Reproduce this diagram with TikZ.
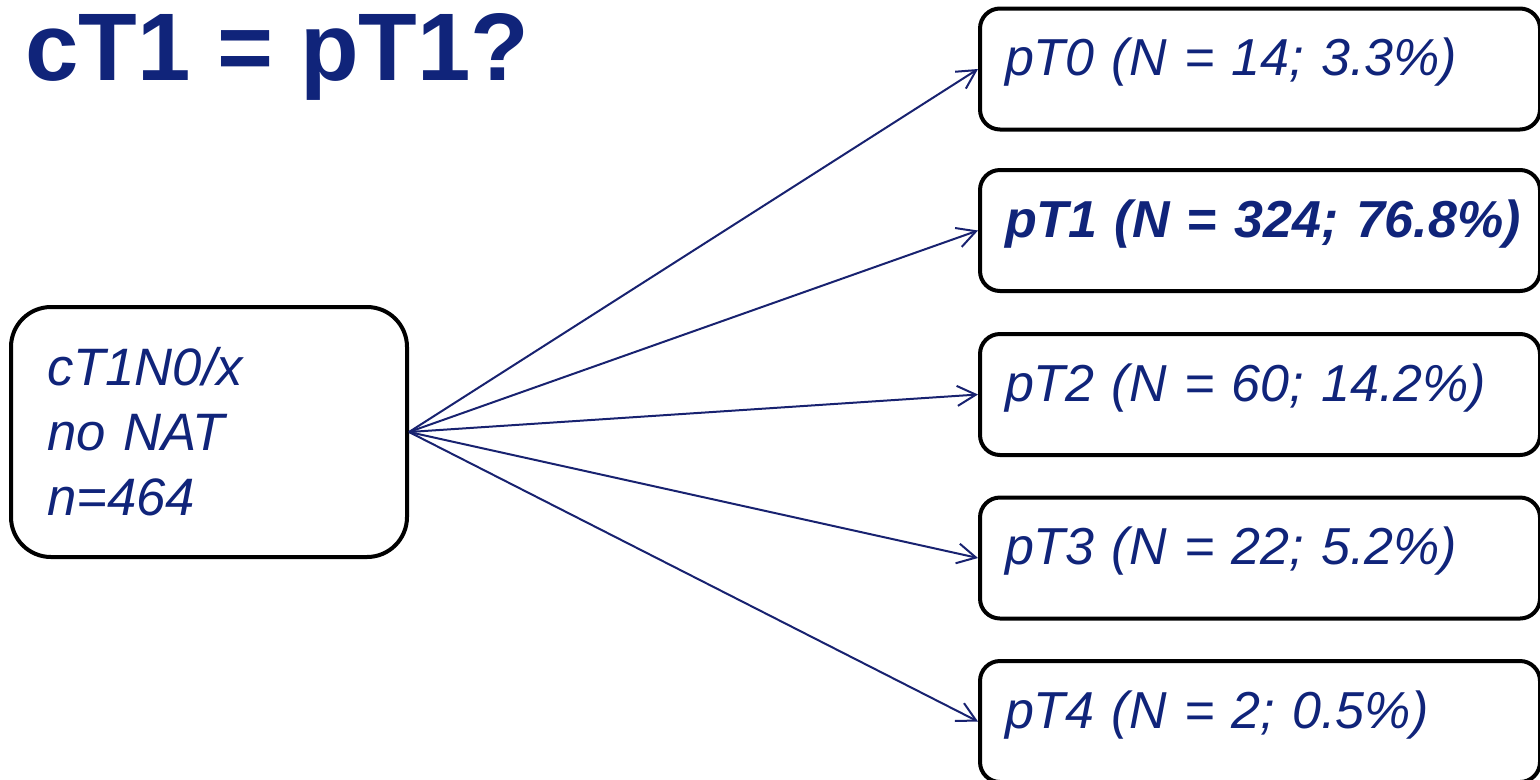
\documentclass[tikz,border=0pt]{standalone}
\usepackage{fontspec}
\setmainfont{Liberation Sans}
\usetikzlibrary{arrows.meta}
\definecolor{navy}{RGB}{16,36,122}
\definecolor{arrowc}{RGB}{24,34,112}
\tikzset{
  outbox/.style={draw=black, line width=3pt, rounded corners=15pt, anchor=west,
    text width=382.5pt, inner xsep=18.75pt, inner ysep=0pt,
    text height=50.25pt, text depth=40.5pt, align=left, text=navy,
    font=\fontsize{39}{46}\selectfont\itshape},
  inbox/.style={draw=black, line width=3pt, rounded corners=30pt,
    minimum width=297pt, minimum height=187.5pt, text width=243pt,
    inner xsep=27pt, align=left, text=navy,
    font=\fontsize{39.5}{48.75}\selectfont\itshape},
  conn/.style={draw=arrowc, line width=1.5pt, -{Straight Barb[length=14pt,width=15pt,line width=1.5pt]}},
}
\begin{document}
\begin{tikzpicture}[x=0.75pt,y=-0.75pt]
\useasboundingbox (0,0) rectangle (1540,779);
\clip (0,0) rectangle (1540,779);
\node[anchor=base west, inner sep=0pt, text=navy, font=\fontsize{72}{86}\selectfont\bfseries] (title) at (25,80) {cT1 = pT1?};
\node[inbox] (c) at (209,432) {cT1N0/x\\no NAT\\n=464};
\node[outbox] (p0) at (978,69) {pT0 (N = 14; 3.3\%)};
\node[outbox, font=\fontsize{39}{46}\selectfont\bfseries\itshape] (p1) at (978,230.5) {\mbox{pT1 (N = 324; 76.8\%)}};
\node[outbox] (p2) at (978,394.5) {pT2 (N = 60; 14.2\%)};
\node[outbox] (p3) at (978,558) {pT3 (N = 22; 5.2\%)};
\node[outbox] (p4) at (978,721.5) {pT4 (N = 2; 0.5\%)};
\foreach \t in {p0,p1,p2,p3,p4} \draw[conn] (c.east) -- (\t.west);
\end{tikzpicture}
\end{document}
